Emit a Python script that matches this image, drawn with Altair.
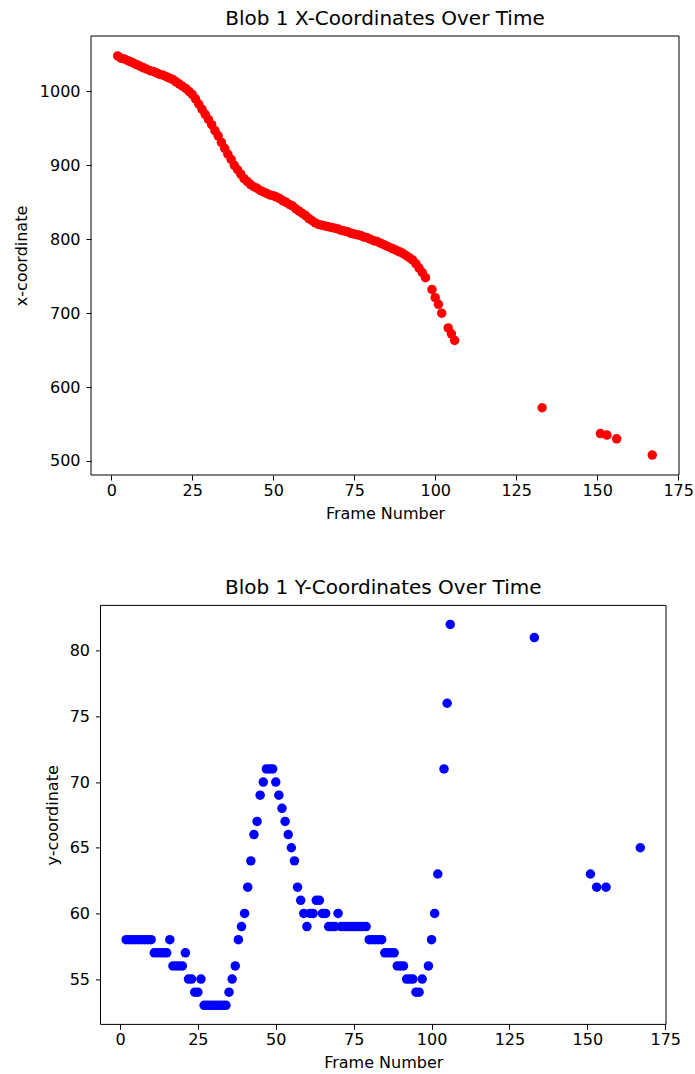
import altair as alt
import pandas as pd

# Frame numbers at which blob 1 was detected
frames = [
    2, 3, 4, 5, 6, 7, 8, 9, 10, 11, 12, 13, 14, 15, 16, 17, 18, 19, 20, 21,
    22, 23, 24, 25, 26, 27, 28, 29, 30, 31, 32, 33, 34, 35, 36, 37, 38, 39, 40, 41,
    42, 43, 44, 45, 46, 47, 48, 49, 50, 51, 52, 53, 54, 55, 56, 57, 58, 59, 60, 61,
    62, 63, 64, 65, 66, 67, 68, 69, 70, 71, 72, 73, 74, 75, 76, 77, 78, 79, 80, 81,
    82, 83, 84, 85, 86, 87, 88, 89, 90, 91, 92, 93, 94, 95, 96, 97,
    99, 100, 101, 102, 104, 105, 106,
    133, 151, 153, 156, 167,
]

# Blob centre x-coordinate per frame
x_coord = [
    1048, 1045, 1044, 1042, 1040, 1038, 1036, 1034, 1032, 1030, 1028, 1027, 1025, 1023, 1022, 1020, 1018, 1016, 1013, 1010,
    1007, 1004, 1000, 996, 990, 983, 976, 969, 962, 955, 947, 940, 931, 923, 915, 908, 900, 894, 888, 882,
    878, 874, 871, 869, 866, 864, 862, 860, 859, 857, 855, 852, 850, 847, 845, 841, 838, 835, 832, 828,
    825, 822, 820, 819, 818, 817, 816, 815, 814, 812, 811, 810, 808, 807, 806, 805, 803, 802, 800, 798,
    797, 795, 793, 791, 789, 787, 785, 783, 781, 778, 775, 772, 767, 761, 755, 748,
    732, 721, 712, 700, 680, 672, 663,
    572, 537, 535, 530, 508,
]

# Blob centre y-coordinate per frame
y_coord = [
    58, 58, 58, 58, 58, 58, 58, 58, 58, 57, 57, 57, 57, 57, 58, 56, 56, 56, 56, 57,
    55, 55, 54, 54, 55, 53, 53, 53, 53, 53, 53, 53, 53, 54, 55, 56, 58, 59, 60, 62,
    64, 66, 67, 69, 70, 71, 71, 71, 70, 69, 68, 67, 66, 65, 64, 62, 61, 60, 59, 60,
    60, 61, 61, 60, 60, 59, 59, 59, 60, 59, 59, 59, 59, 59, 59, 59, 59, 59, 58, 58,
    58, 58, 58, 57, 57, 57, 57, 56, 56, 56, 55, 55, 55, 54, 54, 55,
    56, 58, 60, 63, 71, 76, 82,
    81, 63, 62, 62, 65,
]

frame_ticks = [0, 25, 50, 75, 100, 125, 150, 175]
x_ticks = [500, 600, 700, 800, 900, 1000]
y_ticks = [55, 60, 65, 70, 75, 80]

# Axis limits (data range plus a 5% margin on each side)
FRAME_LIM = [-6.25, 175.25]
X_LIM = [481, 1075]
Y_LIM = [51.55, 83.45]

df = pd.DataFrame({"frame": frames, "x": x_coord, "y": y_coord})

FONT = "DejaVu Sans"


def frame_axis():
    return alt.Axis(values=frame_ticks, title="Frame Number", titlePadding=7,
                    labelPadding=2, format="d")


def value_axis(ticks, title, height, title_x, offset=0):
    return alt.Axis(values=ticks, title=title, minExtent=80, maxExtent=80,
                    labelPadding=6, titleX=title_x, titleY=height / 2, format="d",
                    titleAngle=270, titleAlign="center", titleBaseline="bottom",
                    offset=offset)


def chart_title(text, dx=0):
    return alt.TitleParams(text, font=FONT, fontSize=20, fontWeight="normal",
                           color="black", anchor="middle", frame="group",
                           offset=7, dx=dx)


def frame_box(x_scale, y_scale, y_lim):
    # black rectangle spanning the full axis limits
    box = pd.DataFrame({"x0": [FRAME_LIM[0]], "x1": [FRAME_LIM[1]],
                        "y0": [y_lim[0]], "y1": [y_lim[1]]})
    return alt.Chart(box).mark_rect(
        filled=False, stroke="black", strokeWidth=1
    ).encode(
        x=alt.X("x0:Q", scale=x_scale), x2="x1:Q",
        y=alt.Y("y0:Q", scale=y_scale), y2="y1:Q",
    )


# --- x-coordinate panel ---
top_w, top_h = 588, 439
top_xs = alt.Scale(domain=FRAME_LIM, nice=False, zero=False)
top_ys = alt.Scale(domain=X_LIM, nice=False, zero=False)
top_points = alt.Chart(df).mark_circle(size=90, color="#ff0000", opacity=1).encode(
    x=alt.X("frame:Q", scale=top_xs, axis=frame_axis()),
    y=alt.Y("x:Q", scale=top_ys, axis=value_axis(x_ticks, "x-coordinate", top_h, -61.5)),
)
top = alt.layer(
    frame_box(top_xs, top_ys, X_LIM), top_points,
    title=chart_title("Blob 1 X-Coordinates Over Time"),
).properties(width=top_w, height=top_h)

# --- y-coordinate panel (plot area starts 9.5px further right) ---
inset = 9.5
bot_w, bot_h = 575, 419
bot_xs = alt.Scale(domain=FRAME_LIM, range=[inset, bot_w], nice=False, zero=False)
bot_ys = alt.Scale(domain=Y_LIM, nice=False, zero=False)
bot_points = alt.Chart(df).mark_circle(size=90, color="#0000ff", opacity=1).encode(
    x=alt.X("frame:Q", scale=bot_xs, axis=frame_axis()),
    y=alt.Y("y:Q", scale=bot_ys,
            axis=value_axis(y_ticks, "y-coordinate", bot_h, -39.8, offset=-inset)),
)
bottom = alt.layer(
    frame_box(bot_xs, bot_ys, Y_LIM), bot_points,
    title=chart_title("Blob 1 Y-Coordinates Over Time", dx=inset / 2),
).properties(width=bot_w, height=bot_h)

chart = alt.vconcat(top, bottom, spacing=56.4).properties(
    padding={"left": 11, "top": 8, "right": 0, "bottom": 0},
    background="white",
).configure_view(
    strokeWidth=0
).configure_axis(
    labelFont=FONT, labelFontSize=16, labelColor="black", labelFlush=False,
    titleFont=FONT, titleFontSize=16, titleFontWeight="normal", titleColor="black",
    tickColor="black", tickSize=5, tickWidth=1, grid=False, domain=False,
)

chart.save("out.html", embed_options={"renderer": "svg", "actions": False})
